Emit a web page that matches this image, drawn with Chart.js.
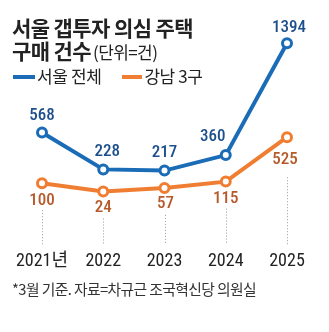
<!DOCTYPE html>
<html><head><meta charset="utf-8">
<script src="https://cdn.jsdelivr.net/npm/chart.js@4.4.1/dist/chart.umd.min.js"></script>
<style>
html,body{margin:0;padding:0;background:#fff;}
#wrap{position:relative;width:329px;height:332px;overflow:hidden;}
canvas{position:absolute;left:0;top:0;}
.t{position:absolute;left:12px;font-family:"Noto Sans CJK KR","Noto Sans",sans-serif;color:#222;white-space:nowrap;}
#t1{top:15px;font-size:21px;font-weight:700;letter-spacing:-0.6px;line-height:24px;}
#t2{top:38px;font-size:21px;font-weight:700;letter-spacing:-0.6px;line-height:24px;}
#t2 span{font-weight:400;font-size:17px;letter-spacing:-0.6px;margin-left:2px;}
#lg{top:64px;left:13px;font-size:17px;letter-spacing:-0.4px;line-height:24px;}
.sw{display:inline-block;width:22px;height:4px;vertical-align:middle;margin-right:2px;position:relative;top:-1px;}
#ft{top:279px;font-size:14.8px;letter-spacing:-0.6px;color:#333;line-height:20px;}
</style></head>
<body><div id="wrap">
<canvas id="c" width="329" height="332"></canvas>
<div class="t" id="t1">서울 갭투자 의심 주택</div>
<div class="t" id="t2">구매 건수<span>(단위=건)</span></div>
<div class="t" id="lg"><span class="sw" style="background:#1b6cb7"></span>서울 전체<span style="display:inline-block;width:21px"></span><span class="sw" style="background:#f07e32;width:20px"></span>강남 3구</div>
<div class="t" id="ft">*3월 기준. 자료=차규근 조국혁신당 의원실</div>
</div>
<script>
const categories = ["2021년", "2022", "2023", "2024", "2025"];
const seoulTotal = [568, 228, 217, 360, 1394];
const gangnam3 = [100, 24, 57, 115, 525];
const seriesNames = ["서울 전체", "강남 3구"];

const numFont = '"Roboto Condensed","Noto Sans CJK KR",sans-serif';

const guidePlugin = {
  id: 'guides',
  beforeDatasetsDraw(chart) {
    const ctx = chart.ctx, ca = chart.chartArea;
    const meta = chart.getDatasetMeta(1);
    ctx.save();
    ctx.strokeStyle = '#9a9a9a';
    ctx.lineWidth = 1;
    ctx.setLineDash([1, 2]);
    meta.data.forEach((p, i) => {
      const start = p.y + (i === meta.data.length - 1 ? 40 : 27);
      ctx.beginPath();
      ctx.moveTo(Math.round(p.x) + 0.5, start);
      ctx.lineTo(Math.round(p.x) + 0.5, ca.bottom);
      ctx.stroke();
    });
    ctx.restore();
  }
};

const labelPlugin = {
  id: 'vlabels',
  afterDatasetsDraw(chart) {
    const ctx = chart.ctx;
    ctx.save();
    ctx.textAlign = 'center';
    ctx.textBaseline = 'middle';
    ctx.font = '500 17px ' + numFont;
    const m0 = chart.getDatasetMeta(0), m1 = chart.getDatasetMeta(1);
    const bdx = [0, 4, 0, -13, 2], bdy = [-17, -18, -18, -18, -15];
    m0.data.forEach((p, i) => {
      ctx.fillStyle = '#1d4f8c';
      ctx.fillText(String(chart.data.datasets[0].data[i]), p.x + bdx[i], p.y + bdy[i]);
    });
    const ody = [18, 16, 16, 17, 23], odx = [0, 0, 1, 0, -2];
    m1.data.forEach((p, i) => {
      ctx.fillStyle = '#b65a2b';
      ctx.fillText(String(chart.data.datasets[1].data[i]), p.x + odx[i], p.y + ody[i]);
    });
    ctx.restore();
  }
};

new Chart(document.getElementById('c'), {
  type: 'line',
  data: {
    labels: categories,
    datasets: [
      { label: seriesNames[0], data: seoulTotal, borderColor: '#1b6cb7', borderWidth: 4,
        pointRadius: 4.5, pointBorderWidth: 3, pointBackgroundColor: '#fff', pointBorderColor: '#1b6cb7',
        tension: 0, order: 1 },
      { label: seriesNames[1], data: gangnam3, borderColor: '#f07e32', borderWidth: 4,
        pointRadius: 4.5, pointBorderWidth: 3, pointBackgroundColor: '#fff', pointBorderColor: '#f07e32',
        tension: 0, order: 2 }
    ]
  },
  options: {
    responsive: false,
    animation: false,
    devicePixelRatio: 1,
    layout: { padding: { left: 42, right: 42, top: 20, bottom: 54 } },
    plugins: { legend: { display: false }, title: { display: false }, tooltip: { enabled: false } },
    scales: {
      x: {
        offset: false,
        grid: { display: false, drawTicks: false },
        border: { display: false },
        ticks: { padding: 6, color: '#222', font: { family: numFont, size: 18 }, maxRotation: 0, autoSkip: false }
      },
      y: { display: false, min: -465, max: 1608 }
    }
  },
  plugins: [guidePlugin, labelPlugin]
});
</script>
</body></html>
